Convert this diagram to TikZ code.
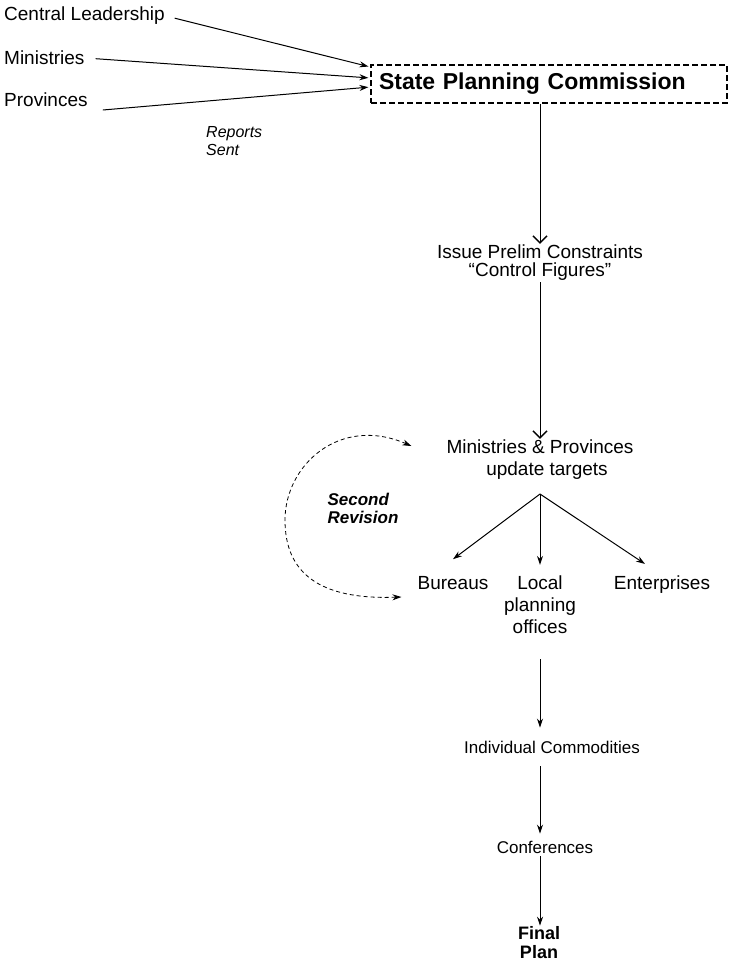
\documentclass[tikz,border=0pt]{standalone}
\usepackage{fontspec}
\setmainfont{Liberation Sans}
\usetikzlibrary{arrows.meta, positioning, calc}

\begin{document}
\begin{tikzpicture}[
  x=1pt, y=-1pt,
  node distance=20pt, on grid,
  lbl/.style={inner sep=1pt, align=center, font=\fontsize{19}{22}\selectfont},
  smalllbl/.style={inner sep=1pt, align=center, font=\fontsize{17}{20}\selectfont},
  spcbox/.style={draw, dash pattern=on 6pt off 3pt, line width=1.2pt, text width=340pt, inner xsep=8pt, minimum height=38pt, align=left, font=\fontsize{23}{26}\selectfont\bfseries},
  note/.style={inner sep=0pt, align=left, font=\fontsize{16}{18}\selectfont\itshape},
  arr/.style={-{Stealth[length=9pt, width=6pt]}, line width=1pt},
  openarr/.style={-{Straight Barb[length=7pt, width=14pt, line width=1.5pt]}, line width=1pt},
  revarr/.style={{Stealth[length=9pt, width=6pt]}-{Stealth[length=9pt, width=6pt]}, dash pattern=on 4pt off 3pt, line width=0.8pt},
]
  \useasboundingbox (0,0) rectangle (730,972);

  % sources and the commission
  \node[spcbox] (spc) at (549,84) {State Planning Commission};
  \node[lbl, anchor=west] (cl) at (3,16) {Central Leadership};
  \node[lbl, anchor=west] (min) at (3,58) {Ministries};
  \node[lbl, anchor=west] (prov) at (3,100) {Provinces};
  \node[note, anchor=west] (rep) at (206,141) {Reports\\Sent};

  % main column
  \node[lbl] (prelim) at (540,263) {Issue Prelim Constraints\\[-4pt]``Control Figures''};
  \node[lbl, below=197pt of prelim] (upd) {Ministries \& Provinces\\\hspace*{14pt}update targets};
  \node[lbl, below=145pt of upd] (local) {Local\\planning\\offices};
  \node[lbl, above left=22pt and 87pt of local] (bur) {Bureaus};
  \node[lbl, above right=20pt and 122pt of local] (ent) {Enterprises};
  \node[smalllbl, below=142pt of local, xshift=12pt] (comm) {Individual Commodities};
  \node[smalllbl, below=100pt of comm, xshift=-7pt] (conf) {Conferences};
  \node[lbl, below=96pt of conf, xshift=-6pt, font=\fontsize{18}{19}\selectfont\bfseries] (final) {Final\\Plan};
  \node[note, font=\fontsize{17}{18}\selectfont\bfseries\itshape] (rev) at (363,508) {Second\\Revision};
  \coordinate[below=34pt of upd] (fork);

  \draw[arr, shorten <=9pt, shorten >=2pt] (cl.east) -- ([yshift=17pt]spc.west);
  \draw[arr, shorten <=10pt, shorten >=2pt] (min.east) -- ([yshift=6pt]spc.west);
  \draw[arr, shorten >=2pt] ([shift={(14pt,-10pt)}]prov.east) -- ([yshift=-3pt]spc.west);

  \draw[openarr] (spc.south -| prelim) -- (prelim.north);
  \draw[openarr] (prelim) -- (upd);

  \draw[arr] (fork) -- ([yshift=16pt]bur.north);
  \draw[arr, shorten >=10pt] (fork) -- (local.north);
  \draw[arr] (fork) -- ([shift={(-17pt,11pt)}]ent.north);

  \draw[arr, shorten <=24pt, shorten >=12pt] (local) -- (local |- comm.north);
  \draw[arr, shorten <=12pt, shorten >=6pt] (local |- comm.south) -- (local |- conf.north);
  \draw[arr, shorten <=2pt] (local |- conf.south) -- (local |- final.north);

  % revision loop
  \draw[revarr] ([shift={(-34pt,14pt)}]upd.west) .. controls (340,415) and (285,465) .. (285,520)
    .. controls (285,572) and (318,600) .. ([shift={(-15pt,-14pt)}]bur.west);
\end{tikzpicture}
\end{document}
